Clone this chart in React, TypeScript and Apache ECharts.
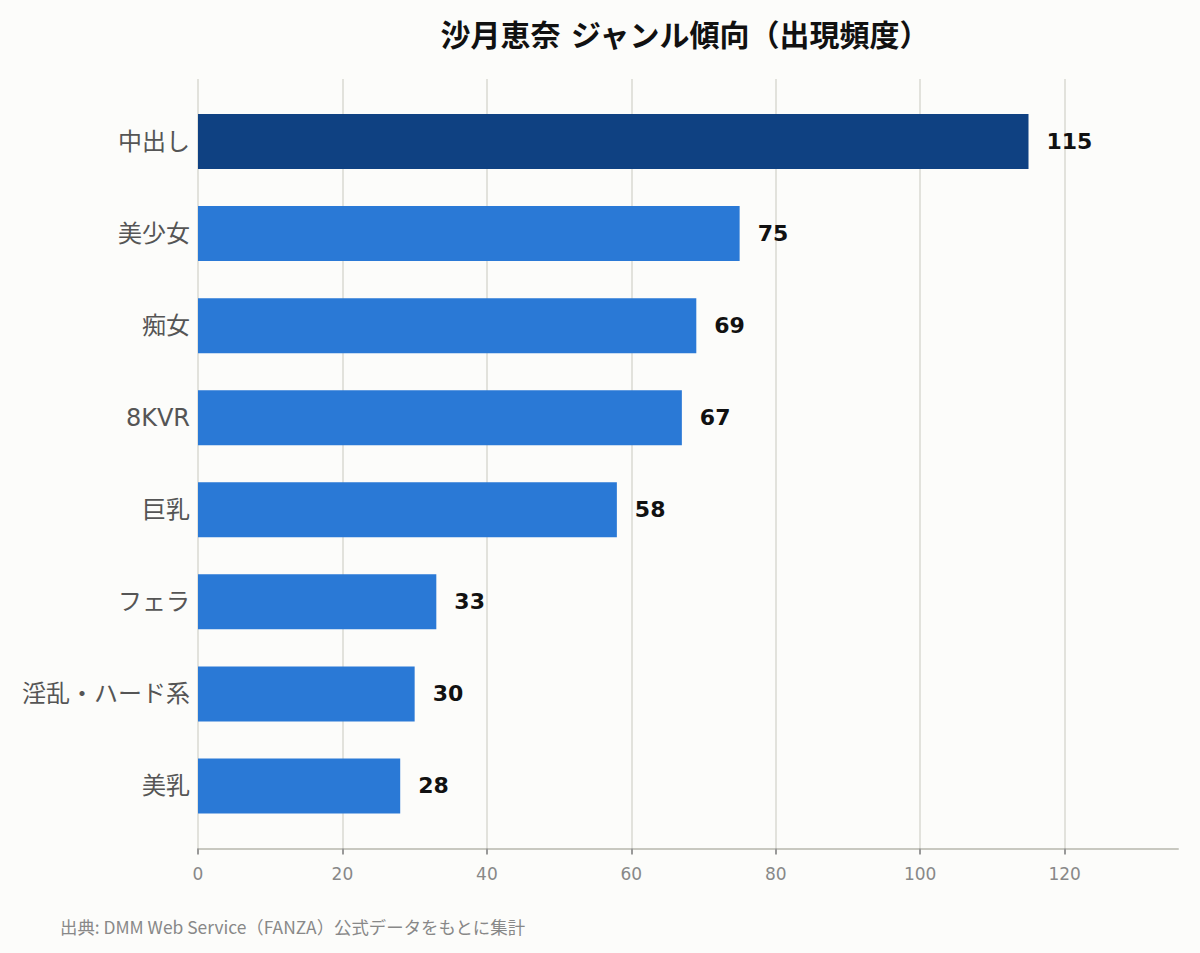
import React, { useEffect, useRef } from "react";
import * as echarts from "echarts";

const categories = ["中出し", "美少女", "痴女", "8KVR", "巨乳", "フェラ", "淫乱・ハード系", "美乳"];
const counts = [115, 75, 69, 67, 58, 33, 30, 28];
const tickValues = [0, 20, 40, 60, 80, 100, 120];
const axisMax = 135.7;
const titleText = "沙月恵奈 ジャンル傾向（出現頻度）";
const footerText = "出典: DMM Web Service（FANZA）公式データをもとに集計";

const FONT = '"DejaVu Sans", "Noto Sans CJK JP", sans-serif';
const CJK_FONT = '"Noto Sans CJK JP", "Noto Sans", sans-serif';

export default function App() {
  const ref = useRef<HTMLDivElement>(null);
  useEffect(() => {
    if (!ref.current) return;
    const chart = echarts.init(ref.current, null, { renderer: "svg" });
    chart.setOption({
      animation: false,
      backgroundColor: "#fcfcfa",
      textStyle: { fontFamily: FONT },
      title: [
        {
          text: titleText,
          left: 685,
          textAlign: "center",
          top: 20,
          padding: 0,
          textStyle: { fontSize: 30, fontWeight: "bold", color: "#111", fontFamily: FONT },
        },
        {
          text: footerText,
          left: 60,
          top: 918,
          padding: 0,
          textStyle: { fontSize: 17.4, fontWeight: "normal", color: "#888", fontFamily: CJK_FONT },
        },
      ],
      grid: [
        { left: 198, right: 22, top: 79, bottom: 104.5, containLabel: false },
        { left: 198, right: 22, top: 95.5, bottom: 121, containLabel: false },
      ],
      xAxis: [
        {
          type: "value",
          gridIndex: 0,
          min: 0,
          max: axisMax,
          interval: 20,
          axisLine: { show: true, lineStyle: { color: "#c8c8c0", width: 2 } },
          axisTick: { show: true, length: 6, customValues: tickValues, lineStyle: { color: "#999", width: 2 } },
          axisLabel: {
            customValues: tickValues,
            fontSize: 17,
            color: "#888",
            margin: 17,
            fontFamily: FONT,
          },
          splitLine: { show: true, lineStyle: { color: "#e2e2dc", width: 2 } },
        },
        {
          type: "value",
          gridIndex: 1,
          min: 0,
          max: axisMax,
          show: false,
          splitLine: { show: false },
        },
      ],
      yAxis: [
        { type: "value", gridIndex: 0, show: false, splitLine: { show: false } },
        {
          type: "category",
          gridIndex: 1,
          data: categories,
          inverse: true,
          axisLine: { show: false },
          axisTick: { show: false },
          axisLabel: { fontSize: 24, color: "#555", margin: 8, fontFamily: FONT },
        },
      ],
      series: [
        {
          type: "bar",
          xAxisIndex: 1,
          yAxisIndex: 1,
          barWidth: 55,
          data: counts.map((v, i) => ({
            value: v,
            itemStyle: { color: i === 0 ? "#0f4182" : "#2a79d6" },
          })),
          label: {
            show: true,
            position: "right",
            distance: 18,
            fontSize: 22,
            fontWeight: "bold",
            color: "#111",
            fontFamily: FONT,
          },
        },
      ],
    });
    return () => chart.dispose();
  }, []);
  return <div ref={ref} style={{ position: "fixed", left: 0, top: 0, width: 1200, height: 953 }} />;
}
